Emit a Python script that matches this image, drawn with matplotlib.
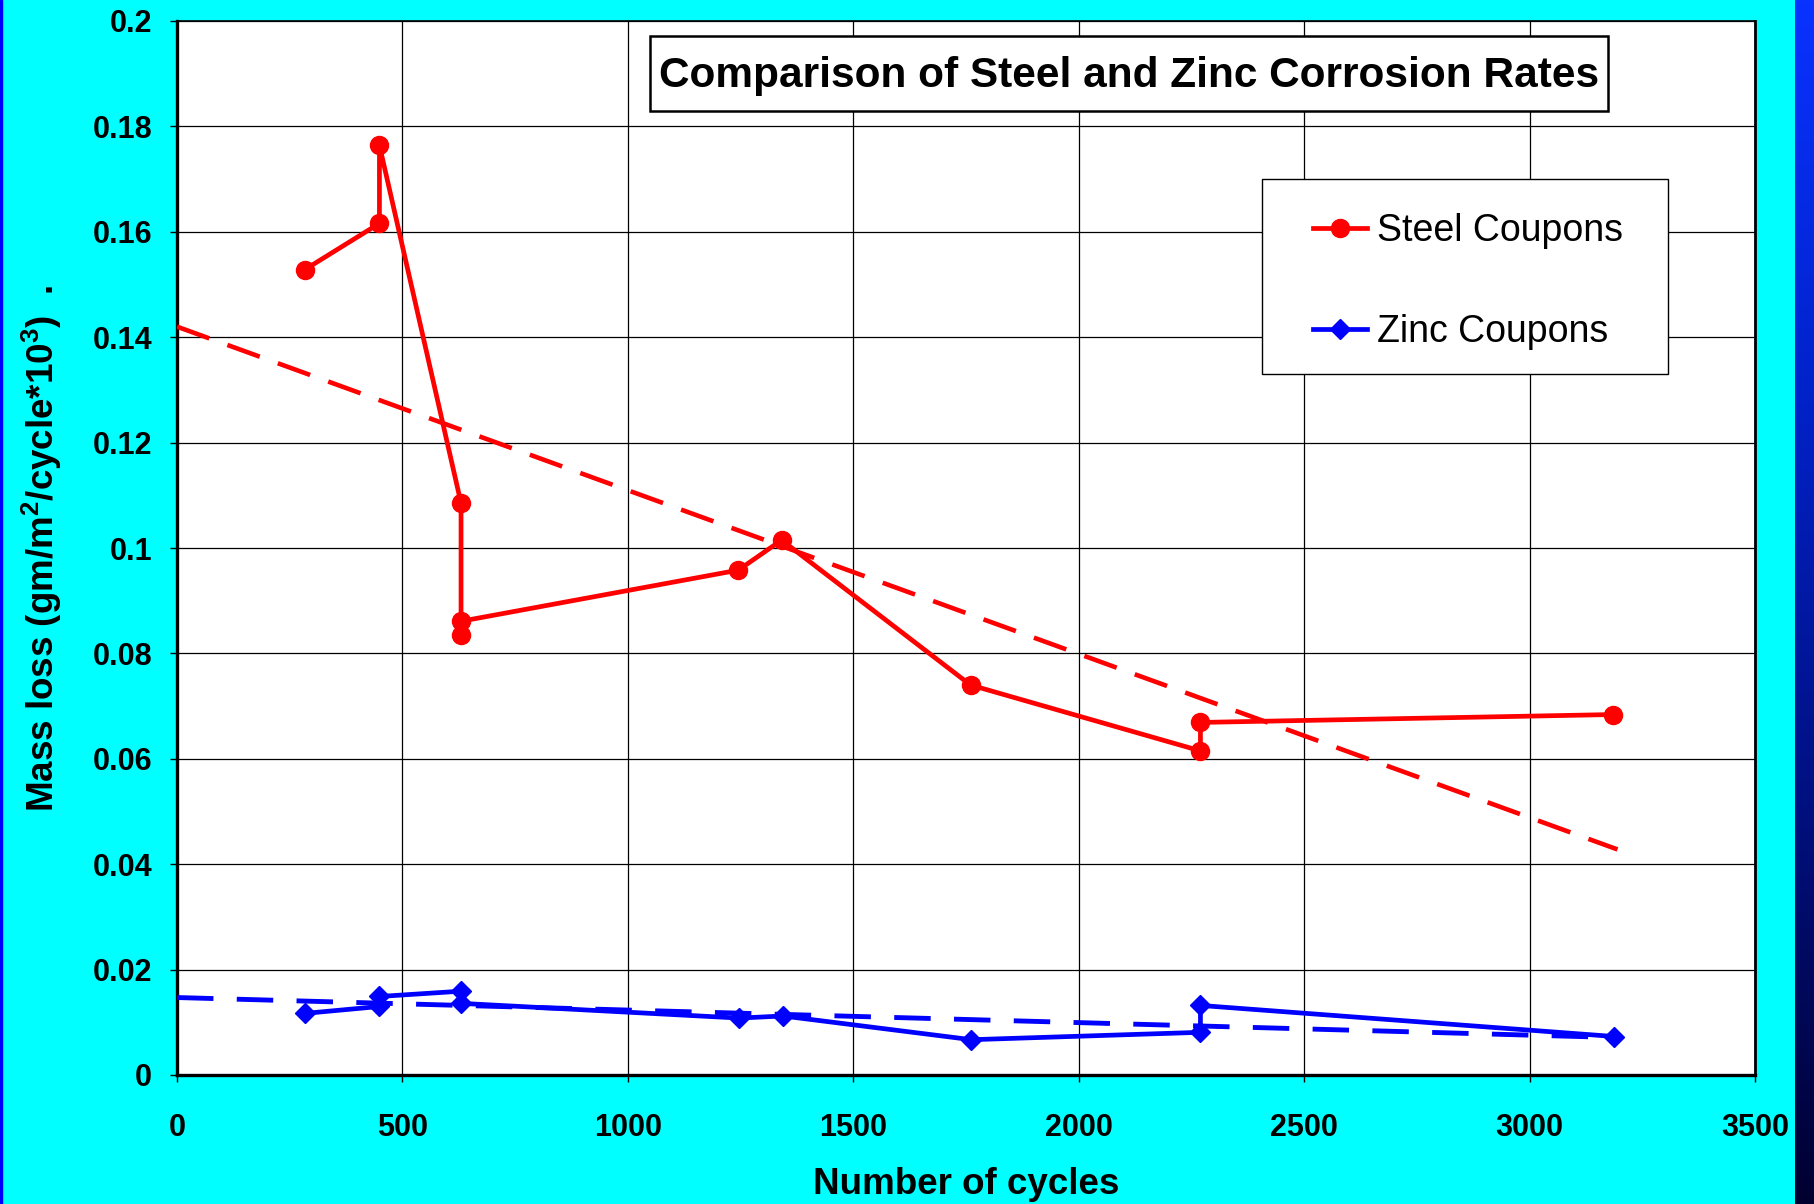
import numpy as np
import matplotlib
matplotlib.use("Agg")
import matplotlib.pyplot as plt
from matplotlib.patches import Rectangle
from matplotlib.colors import LinearSegmentedColormap

# ---- data ----
steel_x = [283, 449, 449, 630, 630, 630, 1245, 1341, 1760, 2270, 2270, 3185]
steel_y = [0.1528, 0.1616, 0.1764, 0.1085, 0.0835, 0.0861, 0.0958, 0.1015, 0.0740, 0.0615, 0.0669, 0.0684]

zinc_x = [285, 449, 449, 629, 629, 1247, 1344, 1762, 2270, 2270, 3188]
zinc_y = [0.0117, 0.0130, 0.0149, 0.0159, 0.0136, 0.0108, 0.0112, 0.0067, 0.0081, 0.0132, 0.0073]

steel_trend_x = [0, 3195]
steel_trend_y = [0.142, 0.0428]
zinc_trend_x = [0, 3195]
zinc_trend_y = [0.0147, 0.0071]

x_ticks = [0, 500, 1000, 1500, 2000, 2500, 3000, 3500]
y_ticks = [0, 0.02, 0.04, 0.06, 0.08, 0.10, 0.12, 0.14, 0.16, 0.18, 0.20]
y_tick_labels = ['0', '0.02', '0.04', '0.06', '0.08', '0.1', '0.12', '0.14', '0.16', '0.18', '0.2']

title = "Comparison of Steel and Zinc Corrosion Rates"
series_labels = ["Steel Coupons", "Zinc Coupons"]

# ---- styling ----
plt.rcParams['font.family'] = ['Liberation Sans', 'DejaVu Sans']
plt.rcParams['mathtext.fontset'] = 'custom'
plt.rcParams['mathtext.rm'] = 'Liberation Sans:bold'
plt.rcParams['mathtext.default'] = 'rm'

W, H = 1814, 1204
fig = plt.figure(figsize=(W / 100, H / 100), dpi=100)
fig.patch.set_facecolor('#00FFFF')

# right-hand gradient strip
gax = fig.add_axes([1795 / W, 0, 19 / W, 1])
cmap = LinearSegmentedColormap.from_list('g', ['#0A32FF', '#0022C8', '#001080', '#000030'])
gax.imshow(np.linspace(0, 1, 256).reshape(-1, 1), aspect='auto', cmap=cmap, extent=[0, 1, 0, 1])
gax.set_axis_off()
fig.patches.append(Rectangle((0, 0), 2 / W, 1, transform=fig.transFigure, color='#0000FF', zorder=0))

left, right, top, bottom = 177, 1755, 21, 1075
ax = fig.add_axes([left / W, 1 - bottom / H, (right - left) / W, (bottom - top) / H])
ax.set_facecolor('white')

ax.set_xlim(0, 3500)
ax.set_ylim(0, 0.2)
ax.set_xticks(x_ticks)
ax.set_xticklabels([str(v) for v in x_ticks])
ax.set_yticks(y_ticks)
ax.set_yticklabels(y_tick_labels)
ax.grid(True, color='black', linewidth=0.9)
ax.set_axisbelow(True)

ax.tick_params(axis='both', direction='out', length=5, width=1.0, color='black',
               labelsize=22)
ax.tick_params(axis='y', pad=13)
ax.tick_params(axis='x', pad=22)
for lab in ax.get_xticklabels() + ax.get_yticklabels():
    lab.set_fontweight('bold')

ax.spines['left'].set_linewidth(2.4)
ax.spines['bottom'].set_linewidth(2.4)
ax.spines['top'].set_linewidth(1.2)
ax.spines['right'].set_linewidth(2.0)

# trend lines
ax.plot(steel_trend_x, steel_trend_y, color='#FF0000', lw=3.3, dashes=(7.5, 4.2), zorder=3)
ax.plot(zinc_trend_x, zinc_trend_y, color='#0000FF', lw=3.5, dashes=(7.5, 4.8), zorder=3)

# data lines
l1, = ax.plot(steel_x, steel_y, color='#FF0000', lw=3.4, marker='o', markersize=13,
              label=series_labels[0], zorder=4)
l2, = ax.plot(zinc_x, zinc_y, color='#0000FF', lw=3.4, marker='D', markersize=10.5,
              label=series_labels[1], zorder=4)

# title box
ax.add_patch(Rectangle((0.2997, 0.9146), 0.9068 - 0.2997, 0.9858 - 0.9146,
                       transform=ax.transAxes, facecolor='white', edgecolor='black',
                       lw=1.8, zorder=5))
ax.text(0.6033, 0.9480, title, transform=ax.transAxes, ha='center', va='center',
        fontsize=30.5, fontweight='bold', zorder=6)

# legend box
ax.add_patch(Rectangle((0.6876, 0.6651), 0.9449 - 0.6876, 0.8501 - 0.6651,
                       transform=ax.transAxes, facecolor='white', edgecolor='black',
                       lw=1.0, zorder=5))
leg = ax.legend(handles=[l1, l2], loc='center left', bbox_to_anchor=(0.7199, 0.7528),
                frameon=False, fontsize=27, borderpad=0, borderaxespad=0,
                handlelength=1.45, handletextpad=0.25, labelspacing=1.72)
leg.set_zorder(6)

ax.set_xlabel("Number of cycles", fontsize=26.5, fontweight='bold', labelpad=18)
ax.set_ylabel(r"Mass loss (gm/m$^2$/cycle*10$^3$)  .", fontsize=26.5, fontweight='bold',
              labelpad=20)

fig.savefig("out.png", dpi=100, facecolor=fig.get_facecolor())
